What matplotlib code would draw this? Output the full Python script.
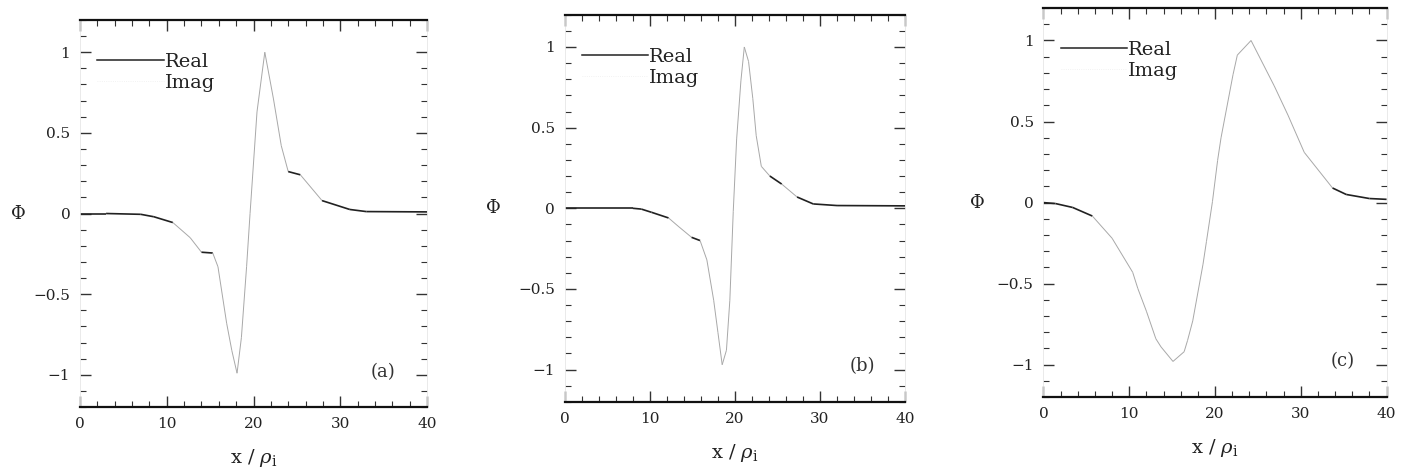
import numpy as np
import matplotlib
matplotlib.use("Agg")
import matplotlib.pyplot as plt
from matplotlib.collections import LineCollection
from matplotlib.lines import Line2D
from matplotlib.ticker import MultipleLocator, FuncFormatter

plt.rcParams['font.family'] = ['DejaVu Serif']
plt.rcParams['mathtext.fontset'] = 'dejavuserif'

# values (Real part of phi vs x / rho_i)
xa = [0, 3, 7, 8.5, 10.7, 12.7, 14.0, 15.3, 15.9, 16.9, 17.5, 18.1, 18.6, 19.2, 19.6,
      20.4, 21.3, 22.3, 23.2, 24.0, 25.4, 27.9, 31.1, 33, 40]
ya = [0, 0, -0.005, -0.02, -0.056, -0.15, -0.24, -0.245, -0.33, -0.68, -0.85, -0.99, -0.77,
      -0.33, 0, 0.63, 1.0, 0.71, 0.42, 0.26, 0.24, 0.08, 0.025, 0.012, 0.01]

xb = [0, 4, 8, 9, 10.2, 12.2, 13.3, 14.9, 15.9, 16.7, 17.5, 18.0, 18.5, 19.0, 19.4, 19.8,
      20.2, 20.7, 21.1, 21.6, 22.1, 22.5, 23.1, 24.1, 25.5, 27.3, 29.2, 32, 40]
yb = [0, 0, 0, -0.005, -0.025, -0.06, -0.11, -0.18, -0.2, -0.32, -0.57, -0.77, -0.97, -0.88,
      -0.57, -0.02, 0.43, 0.79, 1.0, 0.91, 0.68, 0.45, 0.26, 0.2, 0.15, 0.07, 0.027, 0.017, 0.015]

xc = [0, 1.4, 3.4, 5.7, 8.0, 10.4, 11.0, 12.0, 13.1, 13.7, 15.1, 16.4, 16.8, 17.4, 18.6, 19.0,
      19.7, 20.3, 20.7, 22.1, 22.6, 24.2, 26.9, 28.5, 30.4, 33.7, 35.3, 38.0, 40]
yc = [0, -0.006, -0.03, -0.083, -0.22, -0.43, -0.53, -0.67, -0.84, -0.89, -0.98, -0.92, -0.85,
      -0.73, -0.38, -0.24, 0.006, 0.26, 0.4, 0.79, 0.91, 1.0, 0.72, 0.54, 0.31, 0.09, 0.05,
      0.025, 0.02]

panels = [(xa, ya, '(a)'), (xb, yb, '(b)'), (xc, yc, '(c)')]
# axes boxes in figure fractions [left, bottom, width, height]
boxes = [[0.0567, 0.143, 0.2457, 0.815],
         [0.400, 0.154, 0.241, 0.815],
         [0.739, 0.164, 0.243, 0.819]]
ylab_x = [-0.18, -0.21, -0.195]

fig = plt.figure(figsize=(14.12, 4.75), dpi=100)

for (x, y, tag), box, lx in zip(panels, boxes, ylab_x):
    ax = fig.add_axes(box)
    pts = np.column_stack([x, y])
    segs = np.stack([pts[:-1], pts[1:]], axis=1)
    slope = np.abs(np.diff(y) / np.diff(x))
    # the scan keeps the flat parts dark and loses most of the steep ones
    flat = slope < 0.04
    cols = np.where(flat[:, None], [[0.13, 0.13, 0.13, 1]], [[0.66, 0.66, 0.66, 1]])
    lws = np.where(flat, 1.2, 0.7)
    ax.add_collection(LineCollection(segs, colors=cols, linewidths=lws))

    ax.set_xlim(0, 40)
    ax.set_ylim(-1.2, 1.2)
    ax.xaxis.set_major_locator(MultipleLocator(10))
    ax.xaxis.set_minor_locator(MultipleLocator(2))
    ax.yaxis.set_major_locator(MultipleLocator(0.5))
    ax.yaxis.set_minor_locator(MultipleLocator(0.1))
    ax.yaxis.set_major_formatter(FuncFormatter(lambda v, p: ('%g' % v).replace('-', '\u2212')))
    ax.tick_params(which='both', direction='in', top=True, right=True, colors='#333333',
                   labelsize=11, labelcolor='#222222')
    ax.tick_params(which='major', length=8, width=1.0, pad=7)
    ax.tick_params(which='minor', length=4, width=0.8)
    for s in ['top', 'bottom']:
        ax.spines[s].set_color('#111111')
        ax.spines[s].set_linewidth(1.6)
    for s in ['left', 'right']:
        ax.spines[s].set_color('#e6e6e6')
        ax.spines[s].set_linewidth(0.6)

    ax.set_xlabel(r'x / $\rho_\mathrm{i}$', fontsize=14, labelpad=12, color='#222222')
    ax.set_ylabel(r'$\Phi$', fontsize=13, rotation=0, color='#222222', va='center', ha='center')
    ax.yaxis.set_label_coords(lx, 0.5)
    ax.text(33.5, -0.98, tag, fontsize=13, color='#333333', va='center')

    handles = [Line2D([], [], color='#222222', lw=1.1),
               Line2D([], [], color='#eeeeee', lw=0.6, ls=':')]
    ax.legend(handles, ['Real', 'Imag'], loc='upper left', bbox_to_anchor=(0.05, 0.915),
              frameon=False, fontsize=14, handlelength=3.4, handletextpad=0.05,
              labelspacing=0.15, borderpad=0, borderaxespad=0, labelcolor='#222222')

fig.savefig('out.png', dpi=100)
